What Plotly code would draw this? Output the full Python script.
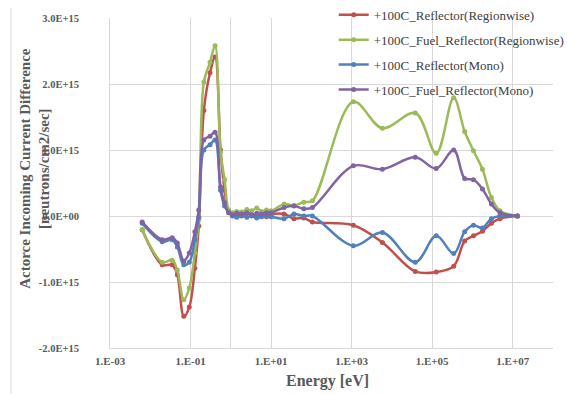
import plotly.graph_objects as go

energy = [0.0063, 0.0198, 0.035, 0.047, 0.068, 0.093, 0.128, 0.16, 0.214, 0.305,
          0.406, 0.556, 0.70, 0.89, 1.1, 1.4, 1.85, 2.5, 3.3, 4.4, 5.8, 7.7, 10,
          21, 37, 65, 106, 1100, 5800, 38000, 126000, 342000, 640000, 1.06e6,
          1.77e6, 2.96e6, 4.83e6, 1.31e7]

red = [-0.21, -0.74, -0.74, -0.89, -1.52, -1.38, -0.79, -0.15, 1.60, 2.17, 2.41,
       1.00, 0.39, 0.06, 0.02, 0.03, 0.00, 0.04, 0.02, 0.00, 0.03, -0.01, 0.02,
       0.03, -0.04, -0.03, -0.09, -0.14, -0.40, -0.84, -0.85, -0.76, -0.38, -0.30,
       -0.23, -0.11, -0.04, 0.0]
green = [-0.21, -0.70, -0.67, -0.82, -1.27, -1.09, -0.56, -0.05, 2.03, 2.33, 2.58,
         0.97, 0.55, 0.09, 0.05, 0.07, 0.06, 0.10, 0.08, 0.12, 0.07, 0.09, 0.08,
         0.18, 0.16, 0.21, 0.23, 1.73, 1.33, 1.56, 0.95, 1.79, 1.28, 0.99, 0.71,
         0.28, 0.08, 0.0]
blue = [-0.11, -0.39, -0.36, -0.47, -0.74, -0.70, -0.36, -0.02, 1.00, 1.08, 1.15,
        0.39, 0.15, 0.05, 0.0, -0.02, 0.01, -0.02, 0.0, -0.03, -0.01, 0.0, -0.01,
        -0.04, 0.03, 0.0, 0.0, -0.45, -0.25, -0.70, -0.30, -0.57, -0.24, -0.14,
        -0.18, -0.04, 0.0, 0.0]
purple = [-0.09, -0.36, -0.33, -0.41, -0.68, -0.56, -0.24, 0.09, 1.15, 1.21, 1.27,
          0.44, 0.20, 0.05, 0.02, 0.04, 0.03, 0.05, 0.02, 0.04, 0.03, 0.05, 0.05,
          0.13, 0.15, 0.11, 0.13, 0.76, 0.71, 0.89, 0.72, 1.00, 0.57, 0.55, 0.41,
          0.18, 0.05, 0.0]

series_names = ["+100C_Reflector(Regionwise)", "+100C_Fuel_Reflector(Regionwise)",
                "+100C_Reflector(Mono)", "+100C_Fuel_Reflector(Mono)"]
series_values = [red, green, blue, purple]
colors = ["#C0504D", "#9BBB59", "#4F81BD", "#8064A2"]

x_tickvals = [1e-3, 1e-1, 1, 1e1, 1e3, 1e5, 1e7]
x_ticktext = ["1.E-03", "1.E-01", "", "1.E+01", "1.E+03", "1.E+05", "1.E+07"]
y_tickvals = [-2e15, -1e15, 0, 1e15, 2e15, 3e15]
y_ticktext = ["-2.0E+15", "-1.0E+15", "0.0E+00", "1.0E+15", "2.0E+15", "3.0E+15"]

SERIF = "Liberation Serif"
GRAY = "#595959"
GRID = "#D9D9D9"

fig = go.Figure()
for i, (name, vals, col) in enumerate(zip(series_names, series_values, colors)):
    fig.add_trace(go.Scatter(
        x=energy, y=[v * 1e15 for v in vals], name=name,
        mode="lines+markers", legendgroup=f"g{i}",
        line=dict(color=col, width=2.5, shape="spline", smoothing=1.0),
        marker=dict(color=col, size=5),
    ))

fig.update_layout(
    width=576, height=394,
    margin=dict(l=102, r=31, t=10, b=54, autoexpand=False),
    paper_bgcolor="white", plot_bgcolor="white",
    font=dict(family=SERIF),
    showlegend=True,
    legend=dict(x=0.505, y=1.055, xanchor="left", yanchor="top",
                bgcolor="rgba(0,0,0,0)", tracegroupgap=5, traceorder="grouped",
                font=dict(family=SERIF, size=13, color="#404040")),
    xaxis=dict(type="log", range=[-3, 8], tickvals=x_tickvals, ticktext=x_ticktext,
               showgrid=True, gridcolor=GRID, gridwidth=1, automargin=False,
               showline=True, linecolor=GRID, linewidth=1, zeroline=False,
               ticks="", ticklabelstandoff=3,
               tickfont=dict(family=SERIF, size=11, color=GRAY, weight="bold")),
    yaxis=dict(range=[-2e15, 3e15], tickvals=y_tickvals, ticktext=y_ticktext,
               showgrid=True, gridcolor=GRID, gridwidth=1, automargin=False,
               showline=True, linecolor=GRID, linewidth=1, zeroline=False,
               ticks="", ticklabelstandoff=28,
               tickfont=dict(family=SERIF, size=10.5, color=GRAY, weight="bold")),
    annotations=[
        dict(text="Actorce Incoming Current Difference<br>[neutrons/cm2/sec]",
             xref="paper", yref="paper", x=-0.17, y=0.545, xanchor="center",
             yanchor="middle", textangle=-90, showarrow=False,
             font=dict(family=SERIF, size=15, color=GRAY, weight="bold")),
        dict(text="Energy [eV]", xref="paper", yref="paper", x=0.49, y=-0.1,
             xanchor="center", yanchor="middle", showarrow=False,
             font=dict(family=SERIF, size=16, color=GRAY, weight="bold")),
    ],
    shapes=[dict(type="rect", xref="paper", yref="paper", x0=-0.2235, x1=1.2,
                 y0=-0.3, y1=1.0333, line=dict(color=GRID, width=1),
                 fillcolor="rgba(0,0,0,0)", layer="below")],
)

fig.write_html("out.html")
